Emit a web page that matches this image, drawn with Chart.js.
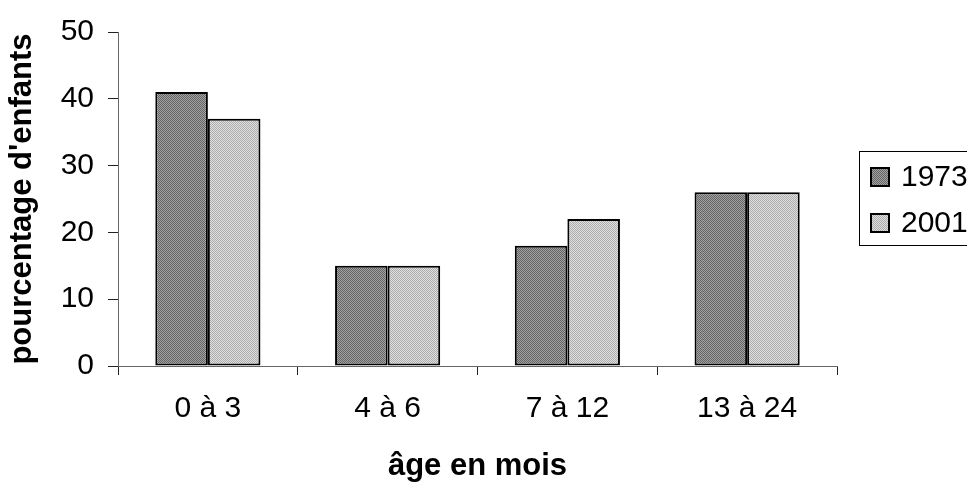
<!DOCTYPE html>
<html>
<head>
  <meta charset="UTF-8" />
  <title>pourcentage d'enfants par âge</title>
  <script src="https://cdn.jsdelivr.net/npm/chart.js"></script>
  <style>
    html, body { margin: 0; padding: 0; background: #fff; }
    #wrap { width: 967px; height: 482px; }
  </style>
</head>
<body>
  <div id="wrap"><canvas id="ageChart"></canvas></div>

  <script>
    // data
    const categories = ['0 à 3', '4 à 6', '7 à 12', '13 à 24'];
    const seriesNames = ['1973', '2001'];
    const values1973 = [41, 15, 18, 26];
    const values2001 = [37, 15, 22, 26];
    const yTicks = [0, 10, 20, 30, 40, 50];

    const FONT = "'Liberation Sans', Arial, sans-serif";

    // small ordered-dither texture, like the old printed bars
    const bayer = [0, 8, 2, 10, 12, 4, 14, 6, 3, 11, 1, 9, 15, 7, 13, 5];
    const makeTexture = (dark, light, level) => {
      const c = document.createElement('canvas');
      c.width = 4; c.height = 4;
      const g = c.getContext('2d');
      for (let i = 0; i < 16; i++) {
        g.fillStyle = bayer[i] < level ? dark : light;
        g.fillRect(i % 4, Math.floor(i / 4), 1, 1);
      }
      return g.createPattern(c, 'repeat');
    };
    const fill1973 = makeTexture('#646464', '#a2a2a2', 8);
    const fill2001 = makeTexture('#acacac', '#e0e0e0', 8);

    // legend box drawn by hand, it is cut by the right edge in the original
    const boxLegend = {
      id: 'boxLegend',
      afterDraw(chart) {
        const ctx = chart.ctx;
        ctx.save();
        ctx.strokeStyle = '#000';
        ctx.lineWidth = 1;
        ctx.fillStyle = '#fff';
        ctx.fillRect(859.5, 151.5, 130, 94);
        ctx.strokeRect(859.5, 151.5, 130, 94);
        chart.data.datasets.forEach((ds, i) => {
          const y = 167 + i * 46;
          ctx.fillStyle = ds.backgroundColor;
          ctx.fillRect(870, y, 20, 20);
          ctx.lineWidth = 2;
          ctx.strokeRect(871, y + 1, 18, 18);
          ctx.fillStyle = '#000';
          ctx.font = '30px ' + FONT;
          ctx.textBaseline = 'middle';
          ctx.textAlign = 'left';
          ctx.fillText(ds.label, 901, y + 11);
        });
        ctx.restore();
      }
    };

    new Chart(document.getElementById('ageChart'), {
      type: 'bar',
      data: {
        labels: categories,
        datasets: [
          { label: seriesNames[0], data: values1973, backgroundColor: fill1973 },
          { label: seriesNames[1], data: values2001, backgroundColor: fill2001 }
        ]
      },
      options: {
        responsive: true,
        maintainAspectRatio: false,
        animation: false,
        devicePixelRatio: 1,
        layout: { padding: { left: 0, top: 31, right: 130, bottom: 0 } },
        datasets: {
          bar: {
            borderColor: '#000',
            borderWidth: 2,
            borderSkipped: false,
            categoryPercentage: 0.585,
            barPercentage: 1.0
          }
        },
        plugins: {
          legend: { display: false },
          tooltip: { enabled: false }
        },
        scales: {
          x: {
            afterFit: (scale) => { scale.height = 116; },
            grid: { drawOnChartArea: false, drawTicks: true, tickLength: 9, color: '#222', offset: true },
            border: { display: true, color: '#666', width: 1 },
            ticks: { color: '#000', padding: 16, font: { family: FONT, size: 30 } },
            title: {
              display: true,
              text: 'âge en mois',
              color: '#000',
              padding: { top: 0, bottom: -3 },
              font: { family: FONT, size: 31, weight: 'bold' }
            }
          },
          y: {
            min: 0,
            max: 50,
            afterFit: (scale) => { scale.width = 118; },
            afterBuildTicks: (scale) => { scale.ticks = yTicks.map(v => ({ value: v })); },
            grid: { drawOnChartArea: false, drawTicks: true, tickLength: 10, color: '#222' },
            border: { display: true, color: '#666', width: 1 },
            ticks: { color: '#000', padding: 14, font: { family: FONT, size: 30 } },
            title: {
              display: true,
              text: "pourcentage d'enfants",
              color: '#000',
              padding: { top: 4, bottom: 0 },
              font: { family: FONT, size: 31, weight: 'bold' }
            }
          }
        }
      },
      plugins: [boxLegend]
    });
  </script>
</body>
</html>
